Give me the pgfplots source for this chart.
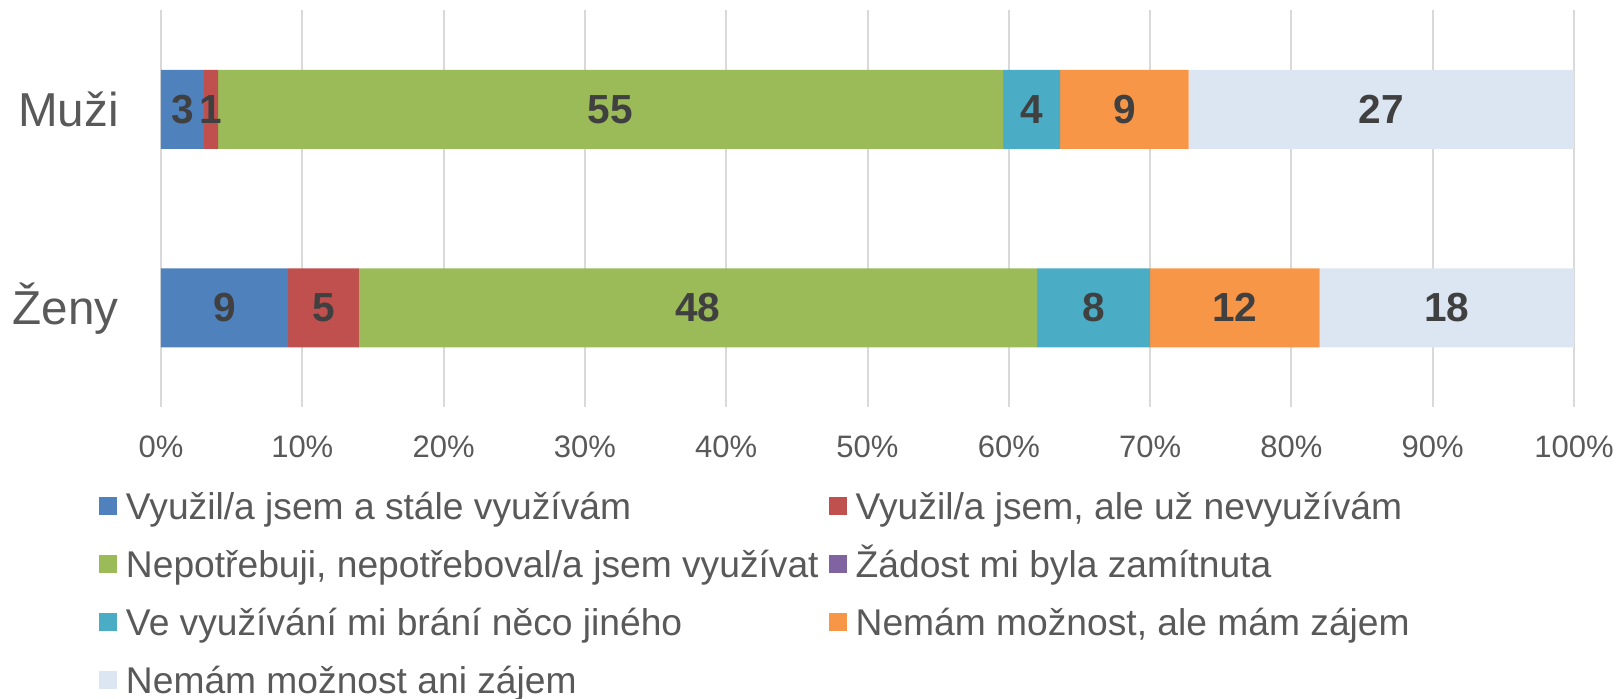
\documentclass[border=0pt]{standalone}
\usepackage{pgfplots}
\pgfplotsset{compat=1.18}
\usepackage{pgfplotstable}
\usepackage{fontspec}
\setmainfont{Liberation Sans}
\definecolor{c1}{HTML}{4F81BD}
\definecolor{c2}{HTML}{C0504D}
\definecolor{c3}{HTML}{9BBB59}
\definecolor{c4}{HTML}{8064A2}
\definecolor{c5}{HTML}{4BACC6}
\definecolor{c6}{HTML}{F79646}
\definecolor{c7}{HTML}{DCE6F2}
\definecolor{txt}{HTML}{595959}
\definecolor{lab}{HTML}{404040}
\definecolor{gridc}{HTML}{D9D9D9}

\pgfplotstableread{
y total s1 s2 s3 s4 s5 s6 s7
1 99 3 1 55 0 4 9 27
0 100 9 5 48 0 8 12 18
}\datatable

\begin{document}
\begin{tikzpicture}
\useasboundingbox (0,0) rectangle (809pt,-349pt);
\begin{axis}[
  at={(80.5pt,-203.5pt)}, anchor=south west,
  scale only axis, width=706.5pt, height=198.5pt,
  xbar stacked, bar width=39.5pt,
  xmin=0, xmax=100, ymin=-0.5, ymax=1.5,
  xtick={0,10,...,100}, ytick={0,1}, yticklabels={Ženy,Muži},
  /pgf/number format/assume math mode=true,
  xticklabel={\pgfmathprintnumber{\tick}\%},
  major tick length=0pt,
  axis line style={draw=none},
  xmajorgrids, grid style={color=gridc, line width=1pt},
  xticklabel style={font=\fontsize{15.5}{18}\selectfont, text=txt, anchor=base, inner sep=0pt, yshift=-25pt},
  yticklabel style={font=\fontsize{23.8}{28}\selectfont, text=txt, anchor=base east, inner sep=0pt, xshift=-21pt, yshift=-8.5pt},
  legend columns=2,
  legend cell align=left,
  legend style={at={(-0.04388,-0.2073)}, anchor=north west, draw=none, fill=none, inner sep=0pt, outer sep=0pt,
    font=\fontsize{18.6}{22}\selectfont, text=txt, row sep=12.3pt, column sep=0pt,
    nodes={inner sep=0pt, text height=15pt, text depth=1.7pt},
    /tikz/every odd column/.append style={column sep=4.5pt},
    /tikz/every even column/.append style={column sep=5pt}},
  every axis plot post/.append style={legend image code/.code={\fill[##1] (0pt,-4.5pt) rectangle (9pt,4.5pt);}},
  every node near coord/.style={font=\fontsize{20.3}{24}\selectfont\bfseries, text=lab, anchor=center, inner sep=0pt},
  lbl/.style={nodes near coords={\pgfmathprintnumber{\pgfplotspointmeta}}},
]
\addplot[fill=c1, draw=none, lbl, point meta=\thisrow{s1}]
  table[x expr=\thisrow{s1}*100/\thisrow{total}, y=y] {\datatable};
\addplot[fill=c2, draw=none, lbl, point meta=\thisrow{s2}]
  table[x expr=\thisrow{s2}*100/\thisrow{total}, y=y] {\datatable};
\addplot[fill=c3, draw=none, lbl, point meta=\thisrow{s3}]
  table[x expr=\thisrow{s3}*100/\thisrow{total}, y=y] {\datatable};
\addplot[fill=c4, draw=none]
  table[x expr=\thisrow{s4}*100/\thisrow{total}, y=y] {\datatable};
\addplot[fill=c5, draw=none, lbl, point meta=\thisrow{s5}]
  table[x expr=\thisrow{s5}*100/\thisrow{total}, y=y] {\datatable};
\addplot[fill=c6, draw=none, lbl, point meta=\thisrow{s6}]
  table[x expr=\thisrow{s6}*100/\thisrow{total}, y=y] {\datatable};
\addplot[fill=c7, draw=none, lbl, point meta=\thisrow{s7}]
  table[x expr=\thisrow{s7}*100/\thisrow{total}, y=y] {\datatable};
\legend{Využil/a jsem a stále využívám, {Využil/a jsem, ale už nevyužívám}, {Nepotřebuji, nepotřeboval/a jsem využívat}, Žádost mi byla zamítnuta, Ve využívání mi brání něco jiného, {Nemám možnost, ale mám zájem}, Nemám možnost ani zájem}
\end{axis}
\end{tikzpicture}
\end{document}
